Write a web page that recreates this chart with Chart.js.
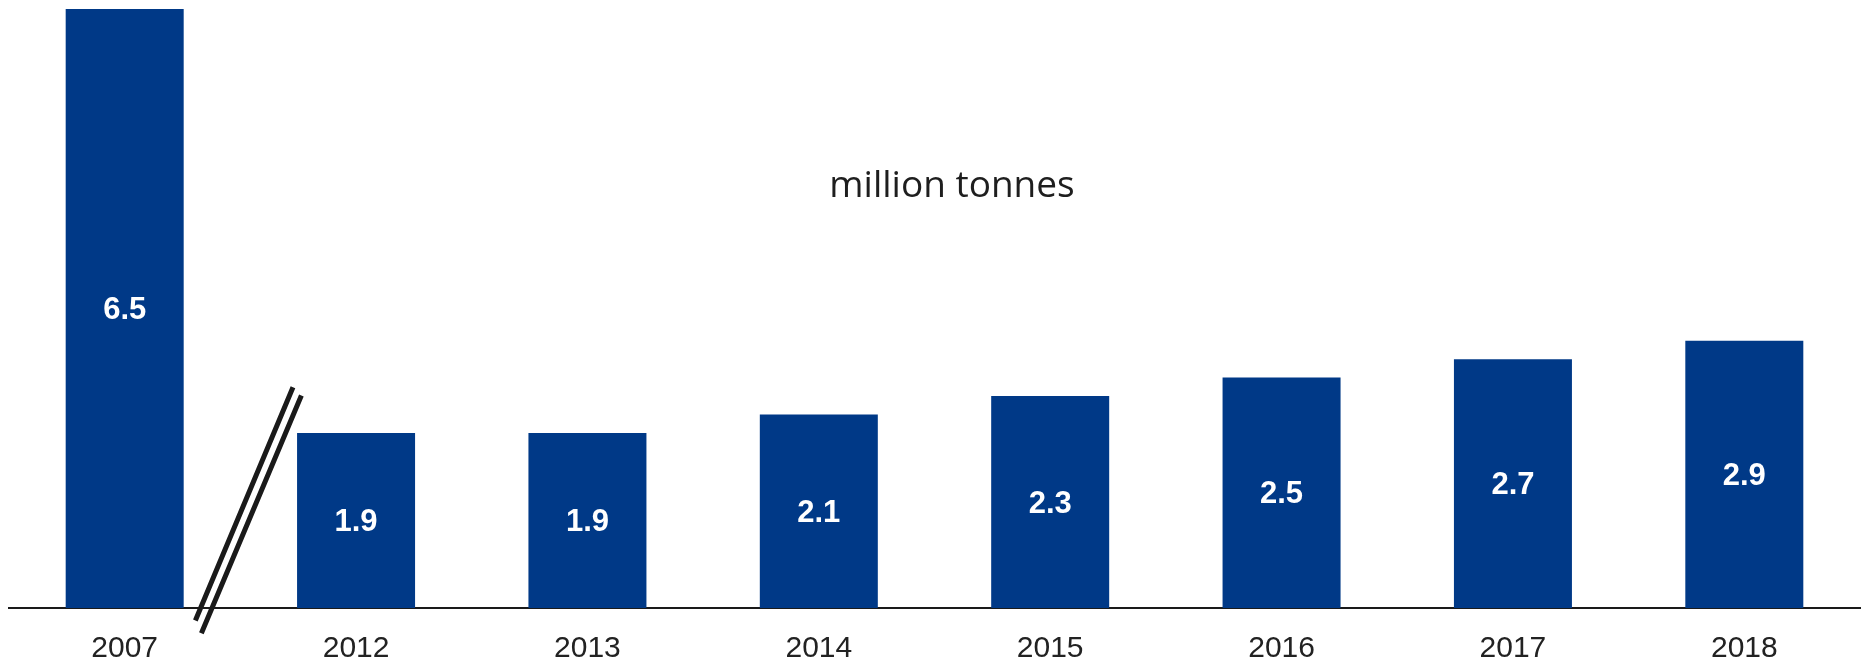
<!DOCTYPE html>
<html>
<head>
<meta charset="utf-8">
<script src="https://cdn.jsdelivr.net/npm/chart.js@4/dist/chart.umd.min.js"></script>
<style>
  body { margin: 0; background: #fff; }
  #wrap { width: 1863px; height: 661px; position: relative; }
</style>
</head>
<body>
<div id="wrap"><canvas id="chart"></canvas></div>
<script>
// data
const years = ["2007", "2012", "2013", "2014", "2015", "2016", "2017", "2018"];
const tonnes = [6.5, 1.9, 1.9, 2.1, 2.3, 2.5, 2.7, 2.9];
const unitLabel = "million tonnes";

const barBlue = "#003987";

// value in the middle of each bar
const barLabels = {
  id: "barLabels",
  afterDatasetsDraw(chart) {
    const ctx = chart.ctx;
    const meta = chart.getDatasetMeta(0);
    ctx.save();
    ctx.fillStyle = "#ffffff";
    ctx.font = "bold 31px 'Liberation Sans', Arial, sans-serif";
    ctx.textAlign = "center";
    ctx.textBaseline = "middle";
    meta.data.forEach((bar, i) => {
      ctx.fillText(tonnes[i].toFixed(1), bar.x, (bar.y + bar.base) / 2 + 2);
    });
    ctx.restore();
  }
};

// the "//" axis break between 2007 and 2012, plus the unit text
const extras = {
  id: "extras",
  afterDraw(chart) {
    const ctx = chart.ctx;
    const x = chart.scales.x;
    const y = chart.scales.y;
    const gap = (x.getPixelForValue(0) + x.getPixelForValue(1)) / 2;
    const base = y.getPixelForValue(0);
    ctx.save();
    ctx.strokeStyle = "#1a1a1a";
    ctx.lineWidth = 5;
    ctx.beginPath();
    ctx.moveTo(gap + 52.6, base - 220.8);
    ctx.lineTo(gap - 45, base + 12.5);
    ctx.moveTo(gap + 61, base - 212.5);
    ctx.lineTo(gap - 39, base + 25.2);
    ctx.stroke();

    ctx.fillStyle = "#1e1e1e";
    ctx.font = "37px 'Open Sans', sans-serif";
    ctx.textAlign = "center";
    ctx.textBaseline = "alphabetic";
    ctx.fillText(unitLabel, 952, 197);
    ctx.restore();
  }
};

new Chart(document.getElementById("chart"), {
  type: "bar",
  data: {
    labels: years,
    datasets: [{
      data: tonnes,
      backgroundColor: barBlue,
      borderWidth: 0,
      categoryPercentage: 1,
      barPercentage: 0.51
    }]
  },
  options: {
    responsive: true,
    maintainAspectRatio: false,
    animation: false,
    layout: { padding: { left: 9, right: 3, top: 9, bottom: 0 } },
    plugins: { legend: { display: false }, tooltip: { enabled: false } },
    scales: {
      x: {
        afterFit(scale) { scale.height = 53; },
        grid: { display: false, drawTicks: false, tickLength: 0 },
        border: { display: true, color: "#1a1a1a", width: 2 },
        ticks: {
          color: "#222222",
          padding: 26,
          font: { family: "'Liberation Sans', Arial, sans-serif", size: 30, lineHeight: 1 }
        }
      },
      y: {
        display: false,
        min: 0,
        max: 6.5
      }
    }
  },
  plugins: [barLabels, extras]
});
</script>
</body>
</html>
